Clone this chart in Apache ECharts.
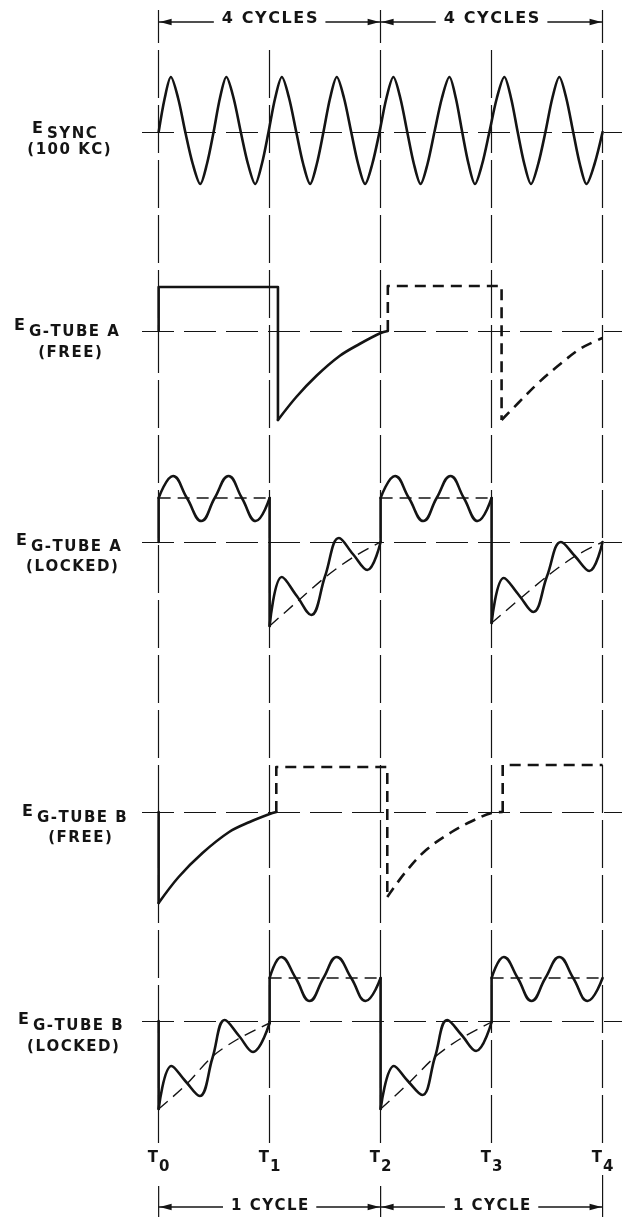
<!DOCTYPE html>
<html>
<head>
<meta charset="utf-8">
<script src="https://cdn.jsdelivr.net/npm/echarts/dist/echarts.min.js"></script>
<style>html,body{margin:0;padding:0;background:#fff}#c{width:624px;height:1217px}</style>
</head>
<body>
<div id="c"></div>
<script>
// ---------- DATA (x in sync cycles: T0=0 ... T4=8, y in relative volts) ----------
const tickValues = [0, 2, 4, 6, 8];
const tickDigits = ['0', '1', '2', '3', '4'];
const topSpanLabels = ['4 CYCLES', '4 CYCLES'];
const bottomSpanLabels = ['1 CYCLE', '1 CYCLE'];
const rowNames = ['SYNC', 'G-TUBE A', 'G-TUBE A', 'G-TUBE B', 'G-TUBE B'];
const rowNotes = ['(100 KC)', '(FREE)', '(LOCKED)', '(FREE)', '(LOCKED)'];

const syncWave = [
  [0,0],[0.11,34],[0.22,55],[0.35,34],[0.48,0],[0.615,-32],[0.75,-52],[0.87,-32],
  [0.99,0],[1.105,34],[1.22,55],[1.35,34],[1.48,0],[1.61,-32],[1.74,-52],[1.86,-32],
  [1.98,0],[2.10,34],[2.22,55],[2.35,34],[2.48,0],[2.605,-32],[2.73,-52],[2.85,-32],
  [2.97,0],[3.09,34],[3.21,55],[3.34,34],[3.47,0],[3.595,-32],[3.72,-52],[3.85,-32],
  [3.98,0],[4.105,34],[4.23,55],[4.355,34],[4.48,0],[4.60,-32],[4.72,-52],[4.845,-32],
  [4.97,0],[5.105,34],[5.24,55],[5.355,34],[5.47,0],[5.585,-32],[5.70,-52],[5.83,-32],
  [5.96,0],[6.095,34],[6.23,55],[6.35,34],[6.47,0],[6.59,-32],[6.71,-52],[6.84,-32],
  [6.97,0],[7.095,34],[7.22,55],[7.345,34],[7.47,0],[7.59,-32],[7.71,-52],[7.855,-32],
  [8.0,0]
];

const aFreeSolidStep  = [[0,0],[0,44],[2.15,44],[2.15,-89]];
const aFreeSolidDecay = [[2.15,-89],[2.48,-66],[2.84,-45],[3.26,-25],[3.62,-13],[4.0,-2],[4.13,0]];
const aFreeDashStep   = [[4.13,0],[4.13,45],[6.18,45],[6.18,-89]];
const aFreeDashDecay  = [[6.18,-89],[6.48,-72],[6.84,-52],[7.26,-32],[7.62,-17],[8.0,-7]];

const aLockRise1  = [[0,0],[0,44]];
const aLockHigh1  = [[0,44],[0.26,66],[0.51,44],[0.77,21],[1.01,44],[1.26,66],[1.5,44],[1.75,21],[2,44]];
const aLockDrop1  = [[2,44],[2,-84]];
const aLockLow1   = [[2,-84],[2.22,-35],[2.49,-54],[2.75,-73],[3.0,-34],[3.25,4],[3.5,-12],[3.76,-28],[4,0]];
const aLockRise2  = [[4,0],[4,44]];
const aLockHigh2  = [[4,44],[4.26,66],[4.51,44],[4.77,21],[5.01,44],[5.26,66],[5.5,44],[5.75,21],[6,44]];
const aLockDrop2  = [[6,44],[6,-81]];
const aLockLow2   = [[6,-81],[6.22,-36],[6.49,-53],[6.75,-70],[7.0,-34],[7.25,0],[7.5,-14],[7.76,-29],[8,0]];
const aLockLevel1 = [[0,44],[2,44]];
const aLockLevel2 = [[4,44],[6,44]];
const aLockTrend1 = [[2,-84],[2.55,-57],[3.03,-34],[3.51,-15],[4,0]];
const aLockTrend2 = [[6,-81],[6.55,-55],[7.03,-33],[7.51,-14],[8,0]];

const bFreeSolidStep  = [[0,0],[0,-91]];
const bFreeSolidDecay = [[0,-91],[0.36,-65],[0.79,-41],[1.27,-20],[1.64,-10],[2.0,-2],[2.12,0]];
const bFreeDashStep   = [[2.12,0],[2.12,45],[4.12,45],[4.12,-85]];
const bFreeDashDecay  = [[4.12,-85],[4.45,-60],[4.82,-38],[5.28,-20],[5.65,-9],[6.0,-1],[6.2,0]];
const bFreeDashStep2  = [[6.2,0],[6.2,47],[8.0,47]];

const bLockDrop1  = [[0,0],[0,-88]];
const bLockLow1   = [[0,-88],[0.23,-45],[0.48,-60],[0.74,-75],[0.97,-37],[1.19,1],[1.45,-15],[1.7,-31],[2,-2]];
const bLockRise1  = [[2,-2],[2,43]];
const bLockHigh1  = [[2,43],[2.21,64],[2.47,43],[2.72,20],[2.97,43],[3.21,64],[3.47,43],[3.73,20],[4,43]];
const bLockDrop2  = [[4,43],[4,-88]];
const bLockLow2   = [[4,-88],[4.24,-45],[4.49,-60],[4.75,-74],[4.98,-36],[5.2,1],[5.46,-14],[5.72,-30],[6,-1]];
const bLockRise2  = [[6,-1],[6,43]];
const bLockHigh2  = [[6,43],[6.22,64],[6.47,43],[6.72,20],[6.97,43],[7.22,64],[7.47,43],[7.73,20],[8,43]];
const bLockLevel1 = [[2,43],[4,43]];
const bLockLevel2 = [[6,43],[8,43]];
const bLockTrend1 = [[0,-88],[0.47,-65],[0.98,-35],[1.43,-18],[2,-2]];
const bLockTrend2 = [[4,-88],[4.47,-64],[4.98,-36],[5.43,-18],[6,-1]];

// ---------- LAYOUT / STYLE ----------
const INK = '#141414';
const FONT = '"DejaVu Sans", sans-serif';
const rowBase = [132, 331, 542, 812, 1021];
const labelPos = [ // [E left, subscript left, note centre, E top offset, sub top offset, note top offset]
  [32, 47, 69, -11, -5, 11],
  [14, 29, 70, -13, -6, 15],
  [16, 31, 72, -9, -2, 18],
  [22, 37, 80, -8, -1, 19],
  [18, 33, 73, -9, -2, 19]
];
const ST = {
  solid: {color: INK, width: 2.6, type: 'solid', cap: 'round', join: 'round'},
  dash:  {color: INK, width: 2.6, type: [11, 7], cap: 'butt', join: 'round'},
  thin:  {color: INK, width: 1.4, type: [12, 7], cap: 'butt', join: 'round'}
};

const rowSeries = [
  [0, syncWave, 'solid', 0.3],
  [1, aFreeSolidStep, 'solid', false], [1, aFreeSolidDecay, 'solid', 0.35],
  [1, aFreeDashStep, 'dash', false],   [1, aFreeDashDecay, 'dash', 0.35],
  [2, aLockRise1, 'solid', false], [2, aLockHigh1, 'solid', 0.45], [2, aLockDrop1, 'solid', false],
  [2, aLockLow1, 'solid', 0.4], [2, aLockRise2, 'solid', false], [2, aLockHigh2, 'solid', 0.45],
  [2, aLockDrop2, 'solid', false], [2, aLockLow2, 'solid', 0.4],
  [2, aLockLevel1, 'thin', false], [2, aLockLevel2, 'thin', false],
  [2, aLockTrend1, 'thin', 0.3], [2, aLockTrend2, 'thin', 0.3],
  [3, bFreeSolidStep, 'solid', false], [3, bFreeSolidDecay, 'solid', 0.35],
  [3, bFreeDashStep, 'dash', false], [3, bFreeDashDecay, 'dash', 0.35], [3, bFreeDashStep2, 'dash', false],
  [4, bLockDrop1, 'solid', false], [4, bLockLow1, 'solid', 0.4], [4, bLockRise1, 'solid', false],
  [4, bLockHigh1, 'solid', 0.45], [4, bLockDrop2, 'solid', false], [4, bLockLow2, 'solid', 0.4],
  [4, bLockRise2, 'solid', false], [4, bLockHigh2, 'solid', 0.45],
  [4, bLockLevel1, 'thin', false], [4, bLockLevel2, 'thin', false],
  [4, bLockTrend1, 'thin', 0.3], [4, bLockTrend2, 'thin', 0.3]
];

const chart = echarts.init(document.getElementById('c'), null, {renderer: 'canvas', width: 624, height: 1217});

const grids = rowBase.map(b => ({left: 142, right: 2, top: b - 100, height: 200}));
grids.push({left: 158.65, right: 21.42, top: 10, bottom: 74});
grids.push({left: 158.65, right: 21.42, top: 46, bottom: 74});

const xAxes = rowBase.map((b, i) => ({gridIndex: i, type: 'value', min: -0.3, max: 8.35, show: false}));
xAxes.push({
  gridIndex: 5, type: 'value', min: 0, max: 8, interval: 2,
  axisLine: {show: false}, axisTick: {show: false}, splitLine: {show: false},
  axisLabel: {
    margin: 8,
    formatter: v => '{t|T}{s|' + tickDigits[tickValues.indexOf(v)] + '}',
    rich: {
      t: {fontFamily: FONT, fontWeight: 'bold', fontSize: 15, lineHeight: 24, color: INK, verticalAlign: 'top'},
      s: {fontFamily: FONT, fontWeight: 'bold', fontSize: 15, lineHeight: 24, color: INK, verticalAlign: 'bottom', padding: [0, 0, 0, 1]}
    }
  }
});
xAxes.push({gridIndex: 6, type: 'value', min: 0, max: 8, show: false});

const yAxes = rowBase.map((b, i) => ({gridIndex: i, type: 'value', min: -100, max: 100, show: false}));
yAxes.push({gridIndex: 5, type: 'value', min: 0, max: 1, show: false});
yAxes.push({gridIndex: 6, type: 'value', min: 0, max: 1, show: false});

const series = [];
rowBase.forEach((b, i) => {
  series.push({
    type: 'line', xAxisIndex: i, yAxisIndex: i, data: [], silent: true,
    markLine: {silent: true, symbol: 'none', label: {show: false},
      lineStyle: {color: INK, width: 1.2, type: [32, 10]}, data: [{yAxis: 0}]}
  });
});
const vStyle = {color: INK, width: 1.2, type: [48, 7]};
series.push({type: 'line', xAxisIndex: 5, yAxisIndex: 5, data: [], silent: true,
  markLine: {silent: true, symbol: 'none', label: {show: false}, lineStyle: vStyle,
    data: tickValues.filter((v, i) => i % 2 === 0).map(v => ({xAxis: v}))}});
series.push({type: 'line', xAxisIndex: 6, yAxisIndex: 6, data: [], silent: true,
  markLine: {silent: true, symbol: 'none', label: {show: false}, lineStyle: vStyle,
    data: tickValues.filter((v, i) => i % 2 === 1).map(v => ({xAxis: v}))}});
rowSeries.forEach(([g, data, st, sm]) => {
  series.push({type: 'line', xAxisIndex: g, yAxisIndex: g, data: data, smooth: sm,
    symbol: 'none', showSymbol: false, silent: true, clip: false, z: 5,
    lineStyle: ST[st]});
});

chart.setOption({animation: false, backgroundColor: '#fff', grid: grids, xAxis: xAxes, yAxis: yAxes, series: series});

// ---------- annotations placed through the axes ----------
const mctx = document.createElement('canvas').getContext('2d');
function tw(s, font) { mctx.font = font; return mctx.measureText(s).width; }
function spaced(s) { return s.split('').join('\u200A'); }
function font(sz) { return 'bold ' + sz + 'px ' + FONT; }
function text(x, y, s, sz, align, valign) {
  return {type: 'text', x: x, y: y, silent: true, z: 10,
    style: {text: s, font: font(sz), fill: INK, textAlign: align, textVerticalAlign: valign, align: align, verticalAlign: valign}};
}
function seg(x1, y1, x2, y2, w) {
  return {type: 'line', silent: true, z: 10, shape: {x1: x1, y1: y1, x2: x2, y2: y2}, style: {stroke: INK, lineWidth: w || 1.3}};
}
function head(x, y, dir) {
  return {type: 'polygon', silent: true, z: 10, shape: {points: [[x, y], [x - dir * 12, y - 3.2], [x - dir * 12, y + 3.2]]}, style: {fill: INK}};
}
const px = v => chart.convertToPixel({xAxisIndex: 5}, v);
const els = [];
function dim(a, b, y, label, sz, ty) {
  const xa = px(a), xb = px(b), xm = (xa + xb) / 2;
  const t = spaced(label); const g = tw(t, font(sz)) / 2 + 8;
  els.push(seg(xa, y, xm - g, y), seg(xm + g, y, xb, y), head(xa + 1, y, -1), head(xb - 1, y, 1));
  els.push(text(xm, ty, t, sz, 'center', 'middle'));
}
dim(tickValues[0], tickValues[2], 22, topSpanLabels[0], 16, 19);
dim(tickValues[2], tickValues[4], 22, topSpanLabels[1], 16, 19);
dim(tickValues[0], tickValues[2], 1207, bottomSpanLabels[0], 15, 1206);
dim(tickValues[2], tickValues[4], 1207, bottomSpanLabels[1], 15, 1206);
els.push(seg(px(tickValues[0]), 1186, px(tickValues[0]), 1217, 1.2));
els.push(seg(px(tickValues[2]), 1186, px(tickValues[2]), 1217, 1.2));
els.push(seg(px(tickValues[4]), 1175, px(tickValues[4]), 1217, 1.2));

rowBase.forEach((b, i) => {
  const y0 = chart.convertToPixel({yAxisIndex: i}, 0);
  const L = labelPos[i];
  els.push(text(L[0], y0 + L[3], 'E', 16, 'left', 'top'));
  els.push(text(L[1], y0 + L[4], spaced(rowNames[i]), 15, 'left', 'top'));
  els.push(text(L[2], y0 + L[5], spaced(rowNotes[i]), 15, 'center', 'top'));
});
chart.setOption({graphic: {elements: els}});
</script>
</body>
</html>
